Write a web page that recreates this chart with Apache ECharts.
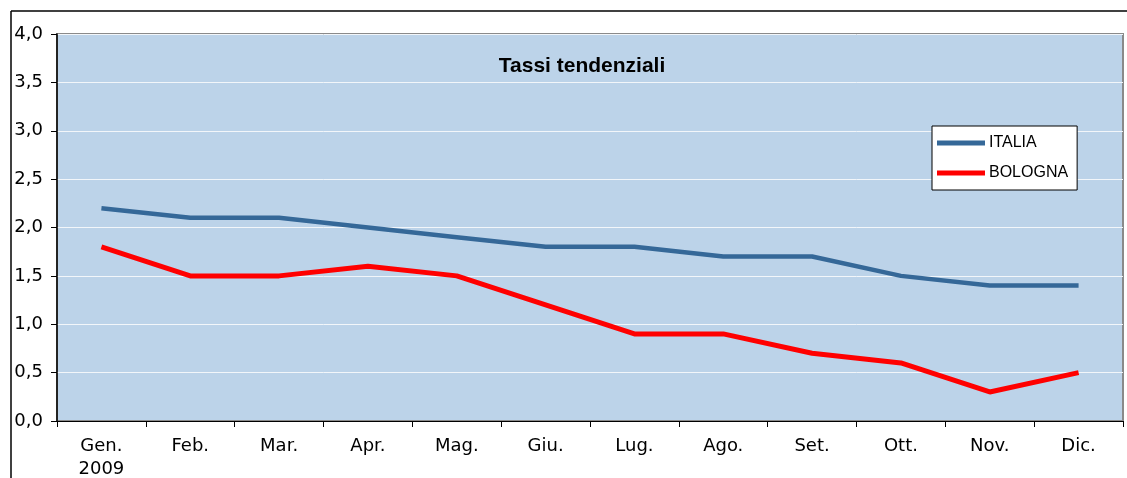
<!DOCTYPE html>
<html>
<head>
<meta charset="utf-8">
<script src="https://cdn.jsdelivr.net/npm/echarts@6/dist/echarts.min.js"></script>
<style>
  html, body { margin: 0; padding: 0; background: #fff; }
  #chart { width: 1127px; height: 478px; }
</style>
</head>
<body>
<div id="chart"></div>
<script>
// categories
const mesi = ["Gen.\n2009", "Feb.", "Mar.", "Apr.", "Mag.", "Giu.", "Lug.", "Ago.", "Set.", "Ott.", "Nov.", "Dic."];
// series
const italia = [2.2, 2.1, 2.1, 2.0, 1.9, 1.8, 1.8, 1.7, 1.7, 1.5, 1.4, 1.4];
const bologna = [1.8, 1.5, 1.5, 1.6, 1.5, 1.2, 0.9, 0.9, 0.7, 0.6, 0.3, 0.5];

const chart = echarts.init(document.getElementById("chart"));

chart.setOption({
  animation: false,
  title: {
    text: "Tassi tendenziali",
    left: 577,
    top: 51,
    textAlign: "center",
    textStyle: {
      fontFamily: "Liberation Sans",
      fontSize: 21,
      fontWeight: "bold",
      color: "#000"
    }
  },
  legend: {
    data: ["ITALIA", "BOLOGNA"],
    orient: "vertical",
    left: 932,
    top: 126,
    padding: [9, 9, 9, 5],
    itemGap: 14,
    itemWidth: 48,
    itemHeight: 16,
    backgroundColor: "#fff",
    borderColor: "#000",
    borderWidth: 1,
    borderRadius: 0,
    textStyle: {
      fontFamily: "Liberation Sans",
      fontSize: 16,
      color: "#000",
      padding: [0, 0, 0, -1]
    },
    icon: "path://M0,0 L48,0 L48,5 L0,5 Z"
  },
  graphic: [
    {
      type: "line",
      shape: { x1: 11, y1: 11, x2: 1127, y2: 11 },
      style: { stroke: "#000", lineWidth: 1.5 }
    },
    {
      type: "line",
      shape: { x1: 11, y1: 11, x2: 11, y2: 478 },
      style: { stroke: "#000", lineWidth: 1.5 }
    }
  ],
  grid: {
    left: 57,
    right: 4,
    top: 34,
    bottom: 57,
    outerBoundsMode: "none",
    containLabel: false,
    show: true,
    backgroundColor: "#bcd3e9",
    borderColor: "#8a8a8a",
    borderWidth: 2
  },
  xAxis: {
    type: "category",
    data: mesi,
    boundaryGap: true,
    axisLine: { show: true, lineStyle: { color: "#000", width: 1 } },
    axisTick: { show: true, length: 6, lineStyle: { color: "#000" } },
    axisLabel: {
      fontFamily: "DejaVu Sans",
      fontSize: 18,
      color: "#000",
      margin: 14,
      lineHeight: 23,
      align: "center"
    },
    splitLine: { show: false }
  },
  yAxis: {
    type: "value",
    min: 0,
    max: 4,
    interval: 0.5,
    axisLine: { show: true, lineStyle: { color: "#000", width: 1.5 } },
    axisTick: { show: true, length: 6, lineStyle: { color: "#000" } },
    axisLabel: {
      fontFamily: "DejaVu Sans",
      fontSize: 18,
      color: "#000",
      margin: 14,
      formatter: v => v.toFixed(1).replace(".", ",")
    },
    splitLine: { show: true, lineStyle: { color: "#f2f6fa", width: 1 } }
  },
  series: [
    {
      name: "ITALIA",
      type: "line",
      data: italia,
      symbol: "none",
      lineStyle: { color: "#356898", width: 4.5 },
      itemStyle: { color: "#356898" }
    },
    {
      name: "BOLOGNA",
      type: "line",
      data: bologna,
      symbol: "none",
      lineStyle: { color: "#ff0000", width: 5 },
      itemStyle: { color: "#ff0000" }
    }
  ]
});
</script>
</body>
</html>
